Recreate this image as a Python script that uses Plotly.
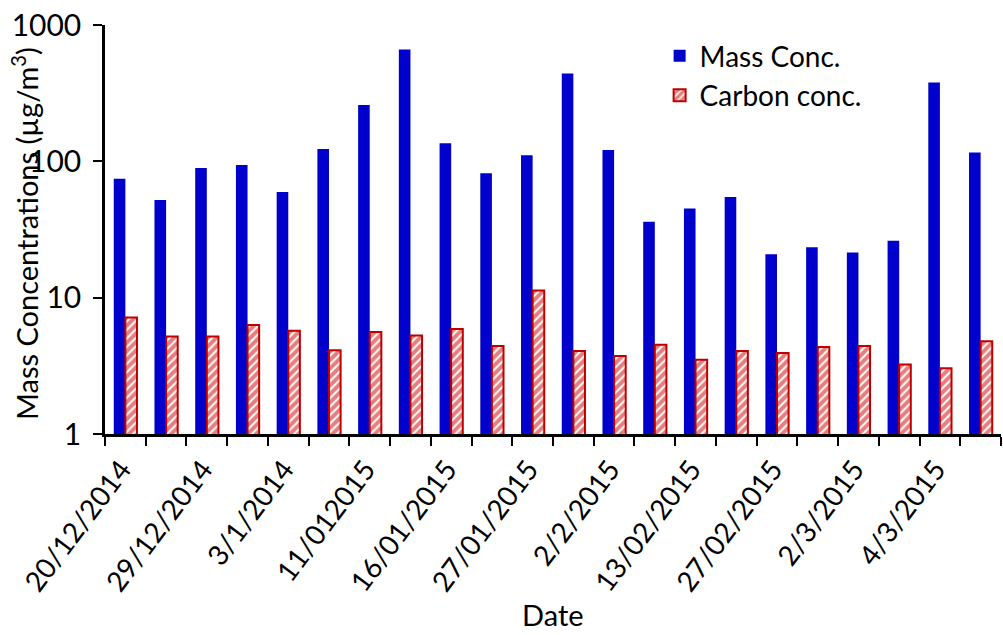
import plotly.graph_objects as go

tick_labels = ["20/12/2014", "29/12/2014", "3/1/2014", "11/012015", "16/01/2015",
               "27/01/2015", "2/2/2015", "13/02/2015", "27/02/2015", "2/3/2015", "4/3/2015"]

mass_conc = [74.5, 52, 89.3, 94, 59.5, 123, 259, 661, 136, 81.6, 111,
             440, 121, 36, 45, 54.7, 20.8, 23.4, 21.4, 26.1, 378, 116]

carbon_conc = [7.14, 5.2, 5.2, 6.3, 5.73, 4.11, 5.6, 5.27, 5.89, 4.42, 11.3,
               4.06, 3.73, 4.52, 3.51, 4.06, 3.92, 4.34, 4.42, 3.24, 3.04, 4.78]

x = list(range(len(mass_conc)))
label_pos = [i - 0.1 for i in x[::2]]
FONT = "Lato"
FS = 30

fig = go.Figure()
fig.add_trace(go.Bar(x=x, y=mass_conc, name="Mass Conc.",
                     marker=dict(color="#0000CC", line=dict(width=0))))
fig.add_trace(go.Bar(x=x, y=carbon_conc, name="Carbon conc.",
                     marker=dict(color="white",
                                 line=dict(color="#C00000", width=2),
                                 pattern=dict(shape="/", fgcolor="#CC0000", bgcolor="white",
                                              size=6, solidity=0.68, fillmode="overlay"))))

fig.update_layout(
    width=1003, height=635,
    margin=dict(l=105, r=2, t=25, b=201),
    paper_bgcolor="white", plot_bgcolor="white",
    barmode="group", bargap=0.43, bargroupgap=0,
    font=dict(family=FONT, size=FS, color="black"),
    legend=dict(x=0.619, y=0.985, xanchor="left", yanchor="top",
                bgcolor="rgba(0,0,0,0)", font=dict(size=FS - 2), tracegroupgap=0),
    xaxis=dict(
        automargin=False,
        range=[-0.5, len(x) - 0.5],
        tickmode="array", tickvals=label_pos, ticktext=tick_labels,
        tickangle=-53, ticks="", showgrid=False, zeroline=False,
        showline=True, linecolor="black", linewidth=2.5,
        ticklabelstandoff=5, ticklabeloverflow="allow",
        tickfont=dict(size=28),
        minor=dict(ticks="outside", tickmode="linear", tick0=-0.5, dtick=1,
                   ticklen=9, tickwidth=2, tickcolor="black", showgrid=False),
    ),
    yaxis=dict(
        automargin=False,
        type="log", range=[0, 3],
        tickvals=[1, 10, 100, 1000], ticktext=["1", "10", "100", "1000"],
        ticks="outside", ticklen=9, tickwidth=2, tickcolor="black",
        showgrid=False, zeroline=False,
        showline=True, linecolor="black", linewidth=2.5,
        ticklabelstandoff=6, ticklabeloverflow="allow",
    ),
    annotations=[
        dict(text="Date", xref="paper", yref="paper", x=0.5, y=-0.4425,
             xanchor="center", yanchor="middle", showarrow=False,
             font=dict(family=FONT, size=FS - 1, color="black")),
        dict(text="Mass Concentrations (µg/m<sup>3</sup>)", xref="paper", yref="paper",
             x=-0.09, y=0.49, textangle=-90, xanchor="center", yanchor="middle",
             showarrow=False, font=dict(family=FONT, size=FS - 1, color="black")),
    ],
)

fig.write_html("out.html")
